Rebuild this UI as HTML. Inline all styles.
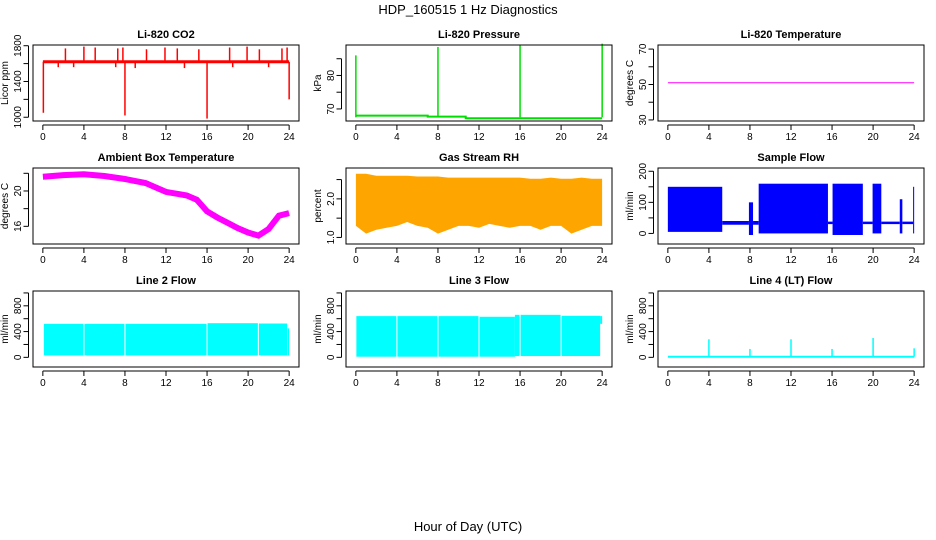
<!DOCTYPE html>
<html><head><meta charset="utf-8"><style>
html,body{margin:0;padding:0;background:#fff}
svg{display:block;font-family:"Liberation Sans",sans-serif}
</style></head><body>
<svg id="c" width="936" height="540" xmlns="http://www.w3.org/2000/svg">
<text x="468" y="14" text-anchor="middle" font-size="13">HDP_160515  1 Hz Diagnostics</text>
<text x="468" y="531" text-anchor="middle" font-size="13">Hour of Day (UTC)</text>
</svg>
<script>
// ---- data ----
const xTicks=[0,4,8,12,16,20,24];
const co2BaseHours=[0,24];
const co2BaseVals=[1620,1620];
const co2SpikeHours=[2.2,4.0,5.1,7.3,7.8,10.1,11.9,13.1,15.2,18.2,19.9,21.1,23.3,23.8,1.5,3.0,7.1,9.0,13.8,18.5,22.0,0.05,8.0,16.0,24.0];
const co2SpikeVals=[1770,1790,1780,1770,1780,1760,1780,1770,1760,1780,1790,1760,1770,1780,1560,1560,1560,1550,1550,1560,1560,1050,1020,985,1200];
const presHours=[0,7,7,10.7,10.7,24];
const presVals=[68,68,67.7,67.7,67.2,67.2];
const presSpikeHours=[0,8,16,24];
const presSpikeVals=[86,88.5,89,89.5];
const tempHours=[0,24];
const tempVals=[51,51];
const ambHours=[0,2,4,6,8,10,12,14,15,16,17,18,19,20,21,22,23,24];
const ambVals=[21.6,21.8,21.9,21.7,21.35,20.9,19.9,19.5,19.0,17.7,17.0,16.4,15.8,15.3,14.95,15.7,17.2,17.5];
const rhHours=[0,1,2,3,4,5,6,7,8,9,10,11,12,13,14,15,16,17,18,19,20,21,22,23,24];
const rhHi=[2.65,2.65,2.6,2.6,2.6,2.6,2.58,2.58,2.58,2.55,2.55,2.55,2.55,2.55,2.55,2.55,2.55,2.52,2.52,2.55,2.52,2.52,2.55,2.52,2.52];
const rhLo=[1.3,1.1,1.2,1.25,1.3,1.4,1.3,1.25,1.1,1.2,1.3,1.3,1.25,1.35,1.3,1.25,1.3,1.3,1.2,1.3,1.3,1.1,1.2,1.3,1.3];
const sfStart=[0,5.3,7.9,8.3,8.85,15.6,16.05,19.0,19.95,20.8,22.6,22.85,23.9];
const sfEnd=[5.3,7.9,8.3,8.85,15.6,16.05,19.0,19.95,20.8,22.6,22.85,23.9,24.0];
const sfLo=[5,28,-5,28,0,30,-5,30,0,30,0,30,0];
const sfHi=[150,40,100,40,160,38,160,38,160,38,110,38,150];
const l2Start=[0.1,4.05,8.05,16.05,21.05,23.85];
const l2End=[3.95,7.95,15.95,20.95,23.8,24.0];
const l2Lo=[30,30,30,30,30,30];
const l2Hi=[520,520,520,530,525,450];
const l3Start=[0.05,4.05,8.05,12.05,15.5,16.05,20.05,23.8];
const l3End=[3.95,7.95,11.95,15.5,15.95,19.95,23.8,24.0];
const l3Lo=[10,10,10,10,20,20,20,520];
const l3Hi=[640,640,640,630,660,660,645,640];
const l4Hours=[0,24];
const l4Vals=[10,10];
const l4SpikeHours=[4,8,12,16,20,24];
const l4SpikeVals=[280,130,280,130,300,140];

// ---- layout ----
const NS="http://www.w3.org/2000/svg";
const svg=document.getElementById('c');
const colX=[33,346,658], rowY=[45,168,291], W=266, H=76;
function el(t,a,p){const e=document.createElementNS(NS,t);for(const k in a)e.setAttribute(k,a[k]);(p||svg).appendChild(e);if(t==='text'){}return e;}
function panel(ci,ri,title,ylab,ydom,yticks,ylabels,name){
  const g=el('g',{});
  
  
  const x0=colX[ci],y0=rowY[ri];
  const sx=h=>x0+W*(h+0.96)/25.92;
  const sy=v=>y0+H*(ydom[1]-v)/(ydom[1]-ydom[0]);
  const t=el('text',{x:x0+W/2,y:y0-7,'text-anchor':'middle','font-size':11,'font-weight':'bold'},g);t.textContent=title;
  
  
  const yl=el('text',{transform:`translate(${x0-25},${y0+H/2}) rotate(-90)`,'text-anchor':'middle','font-size':10},g);yl.textContent=ylab;
  
  
  // axes
  const ax=el('g',{stroke:'#000','stroke-width':1,fill:'none'},g);
  const yb=y0+H+4;
  el('line',{x1:sx(0),x2:sx(24),y1:yb,y2:yb},ax);
  xTicks.forEach(h=>{el('line',{x1:sx(h),x2:sx(h),y1:yb,y2:yb+5},ax);
    const tl=el('text',{x:sx(h),y:yb+15,'text-anchor':'middle','font-size':10,fill:'#000',stroke:'none'},g);tl.textContent=h;
    
    });
  const xa=x0-4.5;
  el('line',{x1:xa,x2:xa,y1:sy(yticks[0]),y2:sy(yticks[yticks.length-1])},ax);
  yticks.forEach(v=>{el('line',{x1:xa,x2:xa-5,y1:sy(v),y2:sy(v)},ax);});
  ylabels.forEach(v=>{const tl=el('text',{transform:`translate(${x0-12},${sy(v)}) rotate(-90)`,'text-anchor':'middle','font-size':10},g);tl.textContent=v;
    
    });
  const plot=el('g',{},g);
  el('rect',{x:x0,y:y0,width:W,height:H,fill:'none',stroke:'#000'},g);
  return {sx,sy,g:plot};
}
function line(p,hs,vs,color,w,name){
  const d=hs.map((h,i)=>(i?'L':'M')+p.sx(h).toFixed(1)+','+p.sy(vs[i]).toFixed(1)).join('');
  const e=el('path',{d,fill:'none',stroke:color,'stroke-width':w},p.g);
  
  
}
function spikes(p,hs,vs,base,color,w,name){
  hs.forEach((h,i)=>{const e=el('line',{x1:p.sx(h),x2:p.sx(h),y1:p.sy(base),y2:p.sy(vs[i]),stroke:color,'stroke-width':w},p.g);
    
    });
}
function segs(p,s,e2,lo,hi,color,name){
  s.forEach((h,i)=>{const r=el('rect',{x:p.sx(h),y:p.sy(hi[i]),width:Math.max(1,p.sx(e2[i])-p.sx(h)),height:Math.max(1.5,p.sy(lo[i])-p.sy(hi[i])),fill:color},p.g);
    
    });
}
function band(p,hs,hi,lo,color,name){
  const up=hs.map((h,i)=>p.sx(h).toFixed(1)+','+p.sy(hi[i]).toFixed(1));
  const dn=hs.map((h,i)=>p.sx(h).toFixed(1)+','+p.sy(lo[i]).toFixed(1)).reverse();
  const e=el('polygon',{points:up.concat(dn).join(' '),fill:color},p.g);
  
  
}

// 1 CO2
let p=panel(0,0,'Li-820 CO2','Licor ppm',[958,1808],[1000,1200,1400,1600,1800],[1000,1400,1800],'co2');
line(p,co2BaseHours,co2BaseVals,'#ff0000',3,'co2-line');
spikes(p,co2SpikeHours,co2SpikeVals,1620,'#ff0000',1.5,'co2-spike');
// 2 Pressure
p=panel(1,0,'Li-820 Pressure','kPa',[66.4,89.1],[70,75,80,85],[70,80],'pressure');
line(p,presHours,presVals,'#00dd00',2,'pressure-line');
spikes(p,presSpikeHours,presSpikeVals,67.5,'#00dd00',1.5,'pressure-spike');
// 3 Temperature
p=panel(2,0,'Li-820 Temperature','degrees C',[29.4,72.3],[30,40,50,60,70],[30,50,70],'li820-temp');
line(p,tempHours,tempVals,'#ff00ff',1,'temp-line');
// 4 Ambient
p=panel(0,1,'Ambient Box Temperature','degrees C',[14.0,22.6],[16,18,20,22],[16,20],'ambient-temp');
line(p,ambHours,ambVals,'#ff00ff',6,'ambient-line');
// 5 RH
p=panel(1,1,'Gas Stream RH','percent',[0.83,2.80],[1.0,1.5,2.0,2.5],['1.0','2.0'],'rh');
band(p,rhHours,rhHi,rhLo,'#ffa500','rh-band');
// 6 Sample flow
p=panel(2,1,'Sample Flow','ml/min',[-34,210.5],[0,50,100,150,200],[0,100,200],'sample-flow');
segs(p,sfStart,sfEnd,sfLo,sfHi,'#0000ff','sample-flow-segment');
// 7 Line 2
p=panel(0,2,'Line 2 Flow','ml/min',[-150,1030],[0,200,400,600,800,1000],[0,400,800],'line2-flow');
segs(p,l2Start,l2End,l2Lo,l2Hi,'#00ffff','line2-segment');
// 8 Line 3
p=panel(1,2,'Line 3 Flow','ml/min',[-150,1030],[0,200,400,600,800,1000],[0,400,800],'line3-flow');
segs(p,l3Start,l3End,l3Lo,l3Hi,'#00ffff','line3-segment');
// 9 Line 4
p=panel(2,2,'Line 4 (LT) Flow','ml/min',[-150,1030],[0,200,400,600,800,1000],[0,400,800],'line4-flow');
line(p,l4Hours,l4Vals,'#00ffff',2,'line4-line');
spikes(p,l4SpikeHours,l4SpikeVals,10,'#00ffff',1.5,'line4-spike');
</script>
</body></html>
